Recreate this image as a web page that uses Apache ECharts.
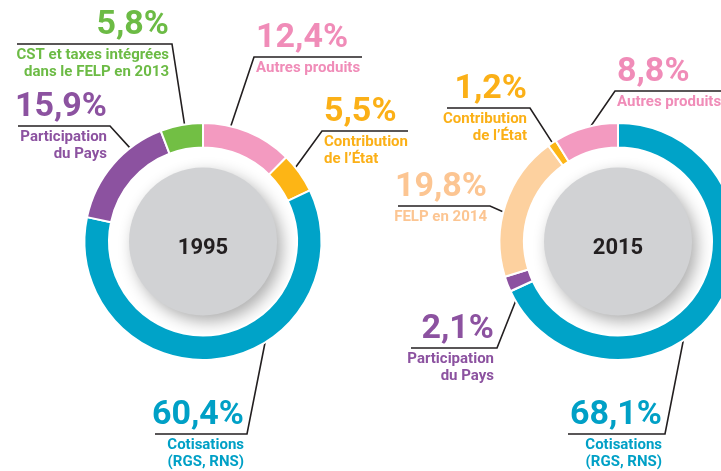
<!DOCTYPE html>
<html>
<head>
<meta charset="utf-8">
<script src="https://cdn.jsdelivr.net/npm/echarts@6/dist/echarts.min.js"></script>
<style>
  html, body { margin: 0; padding: 0; background: #fff; }
  #chart { width: 721px; height: 471px; }
</style>
</head>
<body>
<div id="chart"></div>
<script>
// données (sens horaire depuis midi)
const years = ['1995', '2015']
const names1995 = ['Autres produits', 'Contribution\nde l’État', 'Cotisations\n(RGS, RNS)', 'Participation\ndu Pays', 'CST et taxes intégrées\ndans le FELP en 2013']
const values1995 = [12.4, 5.5, 60.4, 15.9, 5.8]
const names2015 = ['Cotisations\n(RGS, RNS)', 'Participation\ndu Pays', 'FELP en 2014', 'Contribution\nde l’État', 'Autres produits']
const values2015 = [68.1, 2.1, 19.8, 1.2, 8.8]

// couleurs [segment, texte]
const COLORS = {
  'Autres produits': ['#f39ac0', '#f08cb8'],
  'Contribution\nde l’État': ['#fdb515', '#fbb017'],
  'Cotisations\n(RGS, RNS)': ['#00a3c8', '#00a0c6'],
  'Participation\ndu Pays': ['#8c52a0', '#8c52a0'],
  'CST et taxes intégrées\ndans le FELP en 2013': ['#72bf44', '#6cbb45'],
  'FELP en 2014': ['#fdd19f', '#fcc592']
}

// mise en page des étiquettes : point d'accroche dans le segment (fraction, rayon),
// coin du trait [x, y] et extrémité du soulignement
const centers = [[203, 241.5], [618, 241.5]]
const layout1995 = [
  { frac: 0.29, r: 106, corner: [254, 57], endX: 362 },
  { frac: 0.39, r: 111, corner: [322, 131], endX: 408 },
  { frac: 0.34, r: 101, corner: [247, 434], endX: 155 },
  { frac: 0.71, r: 107, corner: [110, 126], endX: 18 },
  { frac: 0.57, r: 109, corner: [172, 44], endX: 17 }
]
const layout2015 = [
  { frac: 0.56, r: 103, corner: [665, 434], endX: 568 },
  { frac: 0.16, r: 104, corner: [497, 348], endX: 411 },
  { frac: 0.43, r: 106, corner: [490, 206], endX: 398 },
  { frac: 0.53, r: 106, corner: [530, 108], endX: 447 },
  { frac: 0.46, r: 112, corner: [615, 91], endX: 740 }
]

const fmtPct = (v) => v.toFixed(1).replace('.', ',') + '%'

const makeLabelLayout = (values, lay, center) => {
  const total = values.reduce((a, b) => a + b, 0)
  const starts = []
  let acc = 0
  values.forEach(v => { starts.push(acc); acc += v })
  return (params) => {
    const i = params.dataIndex
    const l = lay[i]
    const a0 = starts[i] / total * 2 * Math.PI
    const a1 = (starts[i] + values[i]) / total * 2 * Math.PI
    const a = a0 + (a1 - a0) * l.frac
    const sx = center[0] + l.r * Math.sin(a)
    const sy = center[1] - l.r * Math.cos(a)
    const left = l.endX > l.corner[0]
    return {
      x: left ? l.corner[0] + 2 : l.corner[0] - 3,
      y: l.corner[1] - 41,
      align: left ? 'left' : 'right',
      verticalAlign: 'top',
      labelLinePoints: [[sx, sy], l.corner, [l.endX, l.corner[1]]]
    }
  }
}

const ringSeries = (names, values, lay, center) => ({
  type: 'pie',
  center: center,
  radius: [94, 118.5],
  startAngle: 90,
  clockwise: true,
  avoidLabelOverlap: false,
  silent: true,
  itemStyle: { borderColor: '#fff', borderWidth: 2 },
  data: names.map((n, i) => ({
    name: n,
    value: values[i],
    itemStyle: { color: COLORS[n][0] },
    label: { color: COLORS[n][1] }
  })),
  label: {
    show: true,
    position: 'outside',
    fontFamily: 'Roboto',
    fontWeight: 'bold',
    formatter: (p) => '{p|' + fmtPct(p.value) + '}\n' +
      p.name.split('\n').map(s => '{n|' + s + '}').join('\n'),
    rich: {
      p: { fontSize: 34, lineHeight: 44, fontWeight: 'bold', fontFamily: 'Roboto' },
      n: { fontSize: 15, lineHeight: 17, fontWeight: 'bold', fontFamily: 'Roboto' }
    }
  },
  labelLine: { show: true, lineStyle: { color: '#231f20', width: 1.6 } },
  labelLayout: makeLabelLayout(values, lay, center)
})

const discSeries = (year, center) => ({
  type: 'pie',
  center: center,
  radius: [0, 74],
  silent: true,
  z: 1,
  itemStyle: {
    color: '#d1d2d4',
    shadowBlur: 16,
    shadowColor: 'rgba(0, 0, 0, 0.32)',
    shadowOffsetX: 5,
    shadowOffsetY: 6
  },
  label: {
    show: true,
    position: 'center',
    formatter: year,
    color: '#231f20',
    fontFamily: 'Roboto',
    fontWeight: 'bold',
    fontSize: 22
  },
  labelLine: { show: false },
  labelLayout: { dy: 7 },
  data: [{ name: year, value: 1 }]
})

const chart = echarts.init(document.getElementById('chart'))
chart.setOption({
  backgroundColor: '#fff',
  animation: false,
  series: [
    discSeries(years[0], centers[0]),
    ringSeries(names1995, values1995, layout1995, centers[0]),
    discSeries(years[1], centers[1]),
    ringSeries(names2015, values2015, layout2015, centers[1])
  ]
})
</script>
</body>
</html>
